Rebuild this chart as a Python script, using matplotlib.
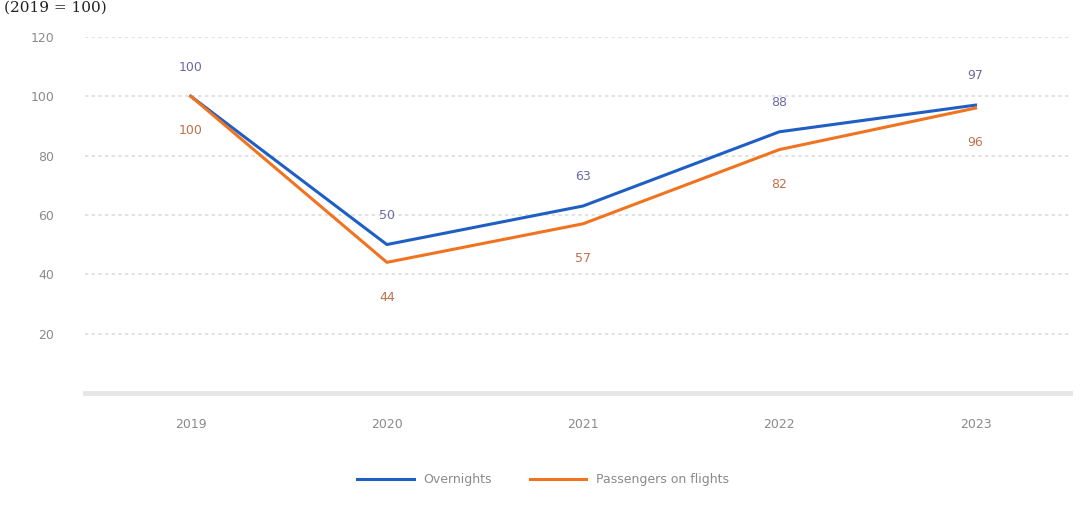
import matplotlib
matplotlib.use('Agg')
import matplotlib.pyplot as plt
import numpy as np

# data (index, 2019 = 100)
years = ['2019', '2020', '2021', '2022', '2023']
overnights = [100, 50, 63, 88, 97]
passengers = [100, 44, 57, 82, 96]
yticks = [20, 40, 60, 80, 100, 120]

blue = '#1f5fc4'
orange = '#f07320'

fig = plt.figure(figsize=(10.86, 5.05), dpi=100)
ax = fig.add_axes([0.078, 0.222, 0.907, 0.705])

x = np.arange(len(years))
ax.plot(x, overnights, color=blue, lw=2.2, label='Overnights', zorder=3)
ax.plot(x, passengers, color=orange, lw=2.2, label='Passengers on flights', zorder=3)

# value labels: blue above, orange below
for i in range(len(years)):
  ax.annotate(str(overnights[i]), (x[i], overnights[i]), xytext=(0, 21),
              textcoords='offset points', ha='center', va='center',
              fontsize=9, color='#6a6aa8')
  ax.annotate(str(passengers[i]), (x[i], passengers[i]), xytext=(0, -25),
              textcoords='offset points', ha='center', va='center',
              fontsize=9, color='#c0704a')

ax.set_xlim(-0.54, 4.48)
ax.set_ylim(0, 120)
ax.set_xticks(x)
ax.set_xticklabels(years)
ax.set_yticks(yticks)
ax.set_yticklabels([str(v) for v in yticks])
ax.grid(axis='y', color='#dddddd', lw=1.2, ls=(0, (2, 2)))
ax.set_axisbelow(True)
for s in ['top', 'right', 'left']:
  ax.spines[s].set_visible(False)
ax.spines['bottom'].set_color('#e6e6e6')
ax.spines['bottom'].set_linewidth(3.5)
ax.tick_params(axis='both', length=0, labelsize=9, labelcolor='#8a8a8a')
ax.tick_params(axis='x', pad=18)
ax.tick_params(axis='y', pad=22)

leg = fig.legend(loc='center', bbox_to_anchor=(0.5, 1 - 480 / 505), ncol=2,
                 frameon=False, fontsize=9, handlelength=4.5, columnspacing=3)
for t in leg.get_texts():
  t.set_color('#8a8a8a')

# title at the very top of the picture
fig.text(4 / 1086, 1 - 1 / 505, '(2019 = 100)', ha='left', va='top',
         fontsize=11, family='DejaVu Serif', color='#222222')

fig.savefig('out.png', dpi=100)
